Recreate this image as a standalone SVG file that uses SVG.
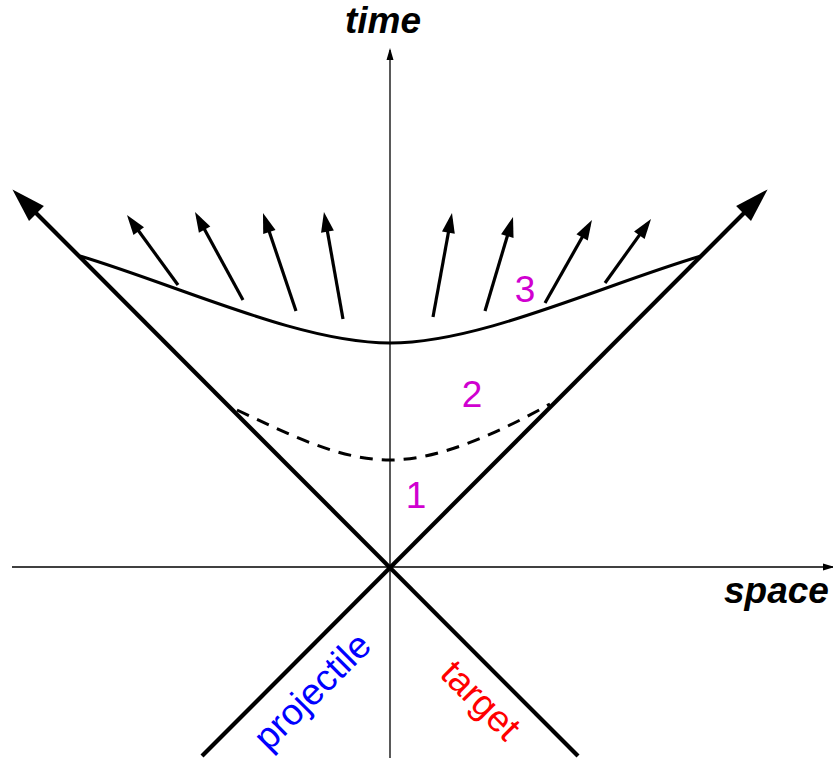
<svg xmlns="http://www.w3.org/2000/svg" width="833" height="758" viewBox="0 0 833 758">
<style>
.axis{stroke:#000;stroke-width:1.3;fill:none}
.cone{stroke:#000;stroke-width:4.2;fill:none}
.curve{stroke:#000;stroke-width:3;fill:none}
.dash{stroke:#000;stroke-width:3;fill:none;stroke-dasharray:13,9}
.arr{stroke:#000;stroke-width:3.2;fill:none}
.lab{font-family:"Liberation Sans",Arial,sans-serif;font-weight:bold;font-style:italic;font-size:37px;fill:#000}
.num{font-family:"Liberation Sans",Arial,sans-serif;font-size:37px;fill:#d000d0;text-anchor:middle}
.beam{font-family:"Liberation Sans",Arial,sans-serif;font-size:37px;text-anchor:middle}
</style>
<defs>
<marker id="big" markerUnits="userSpaceOnUse" viewBox="-26 -12 38 24" markerWidth="38" markerHeight="24" refX="0" refY="0" orient="auto">
<path d="M-24,-10.5 L10,0 L-24,10.5 Z" fill="#000"/>
</marker>
<marker id="small" markerUnits="userSpaceOnUse" viewBox="-15 -8 22 16" markerWidth="22" markerHeight="16" refX="0" refY="0" orient="auto">
<path d="M-14,-6.5 L6,0 L-14,6.5 Z" fill="#000"/>
</marker>
<marker id="ax" markerUnits="userSpaceOnUse" viewBox="-11 -5 14 10" markerWidth="14" markerHeight="10" refX="0" refY="0" orient="auto">
<path d="M-10,-3.5 L2,0 L-10,3.5 Z" fill="#000"/>
</marker>
</defs>
<g id="axes">
<line class="axis" x1="390" y1="758" x2="390" y2="50" marker-end="url(#ax)"/>
<line class="axis" x1="12" y1="567" x2="833" y2="567" marker-end="url(#ax)"/>
<text class="lab" x="383" y="33" text-anchor="middle">time</text>
<text class="lab" x="724" y="603">space</text>
</g>
<g id="connectors">
<line class="cone" x1="578" y1="756" x2="19.5" y2="196.5" marker-end="url(#big)"/>
<line class="cone" x1="202" y1="756" x2="760.5" y2="196.5" marker-end="url(#big)"/>
<path class="curve" d="M80,256 C180,286 300,343 390,343 C480,343 600,286 701,256"/>
<path class="dash" d="M237,410 C290,435 340,460 390,460 C440,460 500,432 550,404"/>
<line class="arr" x1="178" y1="285" x2="130.5" y2="219.8" marker-end="url(#small)"/>
<line class="arr" x1="243" y1="300" x2="197.9" y2="217.3" marker-end="url(#small)"/>
<line class="arr" x1="296" y1="311" x2="264.9" y2="218.7" marker-end="url(#small)"/>
<line class="arr" x1="343" y1="319" x2="325" y2="217.9" marker-end="url(#small)"/>
<line class="arr" x1="433" y1="317" x2="450.9" y2="218.9" marker-end="url(#small)"/>
<line class="arr" x1="485" y1="311" x2="511.3" y2="222.7" marker-end="url(#small)"/>
<line class="arr" x1="545" y1="303" x2="589" y2="225.2" marker-end="url(#small)"/>
<line class="arr" x1="605" y1="283" x2="647.5" y2="223.9" marker-end="url(#small)"/>
</g>
<g id="stage1"><text class="num" x="416" y="508">1</text></g>
<g id="stage2"><text class="num" x="472" y="407">2</text></g>
<g id="stage3"><text class="num" x="525" y="302">3</text></g>
<g id="projectile"><text class="beam" fill="#0000ff" transform="translate(321,700) rotate(-45)">projectile</text></g>
<g id="target"><text class="beam" fill="#ff0000" transform="translate(472,709) rotate(45)">target</text></g>
</svg>
